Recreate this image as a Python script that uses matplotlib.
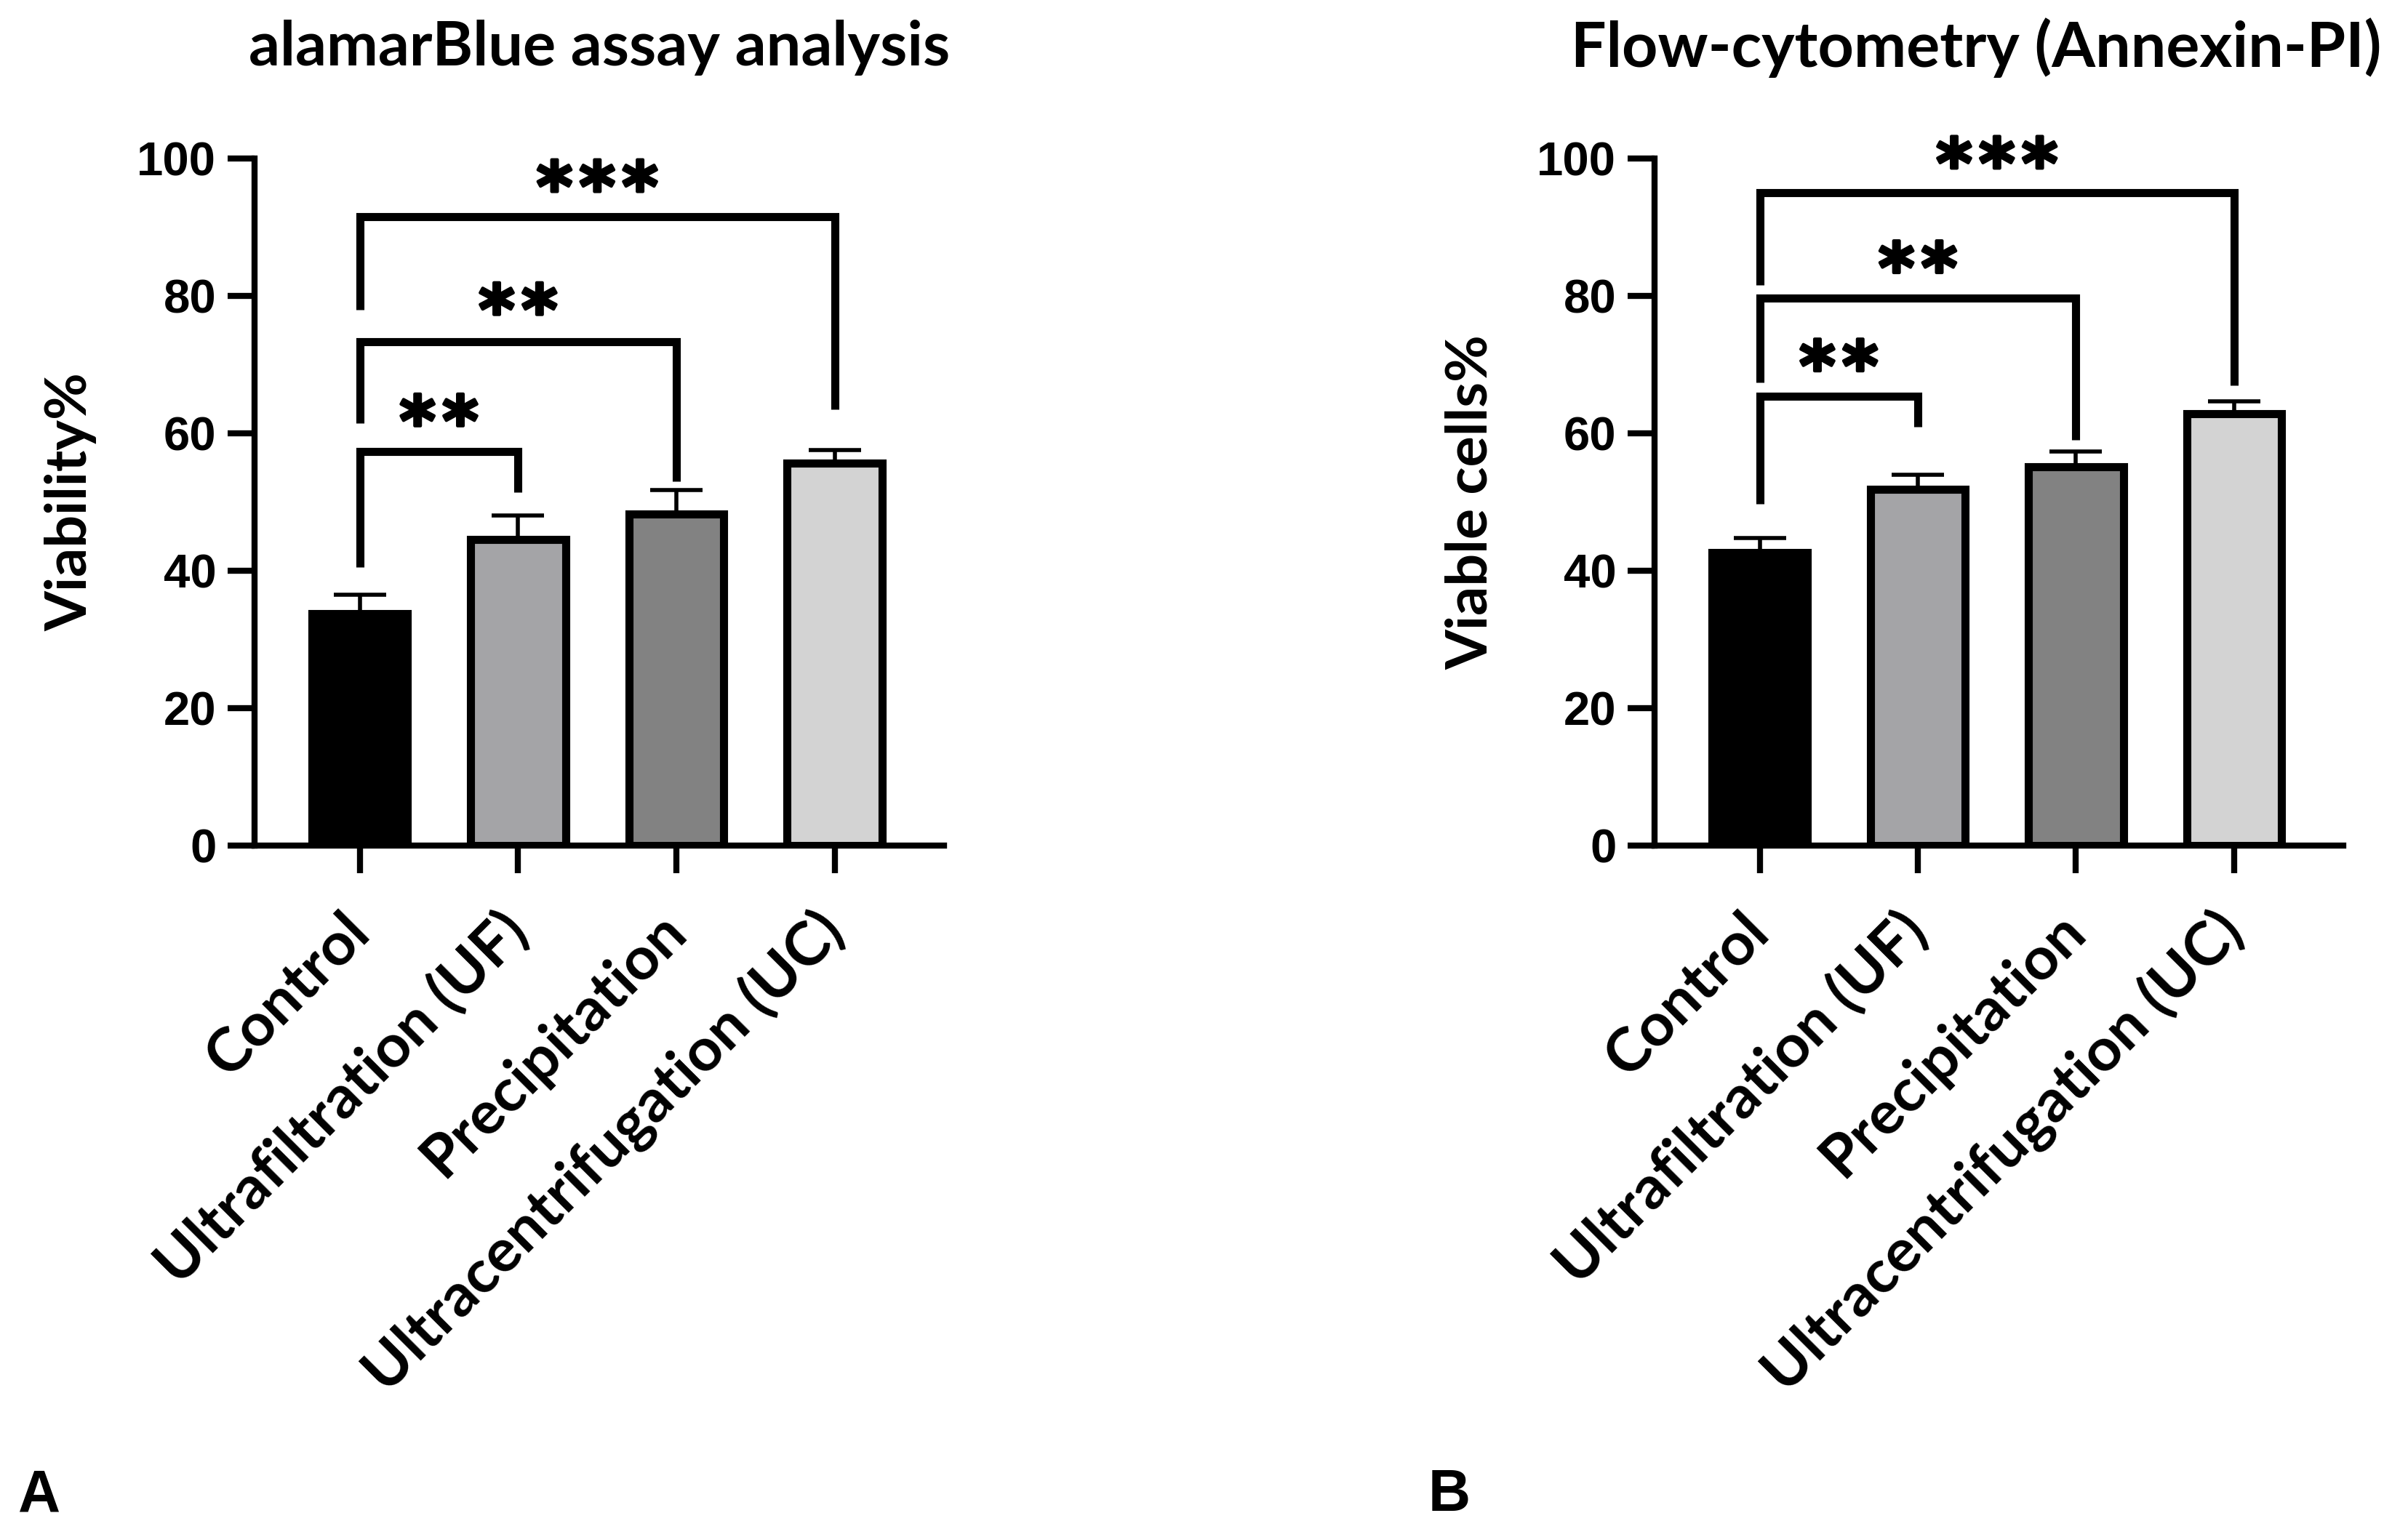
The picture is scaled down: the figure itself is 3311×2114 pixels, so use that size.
import matplotlib
matplotlib.use("Agg")
import matplotlib.pyplot as plt
import matplotlib.patheffects as pe
from matplotlib.transforms import offset_copy

groups = ["Control", "Ultrafiltration (UF)", "Precipitation", "Ultracentrifugation (UC)"]
bar_colors = ["#000000", "#a4a4a7", "#828282", "#d3d3d3"]
y_ticks = [0, 20, 40, 60, 80, 100]

# panel A: alamarBlue viability
viability = [33.7, 44.5, 48.2, 55.7]
viability_err = [2.8, 3.5, 3.5, 1.9]

# panel B: Annexin-PI viable cells
viable_cells = [42.6, 51.8, 55.1, 62.8]
viable_cells_err = [2.2, 2.2, 2.2, 1.9]

# significance brackets, Control vs each group
bracket_pairs = [(0, 1), (0, 2), (0, 3)]
stars = ["**", "**", "***"]
alamar_bracket_y = [57.4, 73.3, 91.5]
alamar_left_leg = [40.5, 61.5, 78.0]
alamar_right_leg = [51.4, 53.0, 63.5]
alamar_star_y = [64.2, 80.4, 98.3]
flow_bracket_y = [65.4, 79.7, 95.0]
flow_left_leg = [49.7, 67.4, 81.6]
flow_right_leg = [60.9, 59.0, 67.0]
flow_star_y = [72.2, 86.5, 101.7]

TEXT_FONT = "Lato"
NUM_FONT = "Liberation Sans"
STAR_SIZE = 68


def draw_panel(ax, values, errs, bracket_y, left_leg, right_leg, star_y, ylabel):
    x = list(range(len(groups)))
    ax.errorbar(x, values, yerr=[[0] * len(errs), errs], fmt="none",
                ecolor="black", elinewidth=4, capsize=26, capthick=4, zorder=1)
    ax.bar(x, values, width=0.6, color=bar_colors, edgecolor="black",
           linewidth=8, zorder=2)

    # asterisk glyph sits high in its box, so anchor on the baseline and drop it
    star_trans = offset_copy(ax.transData, fig=ax.figure, y=-0.59 * STAR_SIZE,
                             units="points")
    for (i, j), top, l1, l2, s, sy in zip(bracket_pairs, bracket_y, left_leg,
                                          right_leg, stars, star_y):
        ax.plot([i, i, j, j], [l1, top, top, l2], color="black", lw=8,
                solid_joinstyle="miter", solid_capstyle="butt", clip_on=False, zorder=3)
        ax.text((i + j) / 2, sy, "\u200a".join(s), ha="center", va="baseline",
                fontsize=STAR_SIZE, fontweight="bold", family="DejaVu Sans",
                transform=star_trans, clip_on=False,
                path_effects=[pe.withStroke(linewidth=3, foreground="black")])

    ax.set_xlim(-0.665, 3.69)
    ax.set_ylim(0, 100)
    ax.set_yticks(y_ticks)
    ax.set_xticks(x)
    ax.set_xticklabels(groups, rotation=45, ha="right", va="center",
                       rotation_mode="anchor", fontsize=60, fontweight="bold",
                       family=TEXT_FONT)
    for lab in ax.get_yticklabels():
        lab.set_fontsize(47)
        lab.set_fontweight("bold")
        lab.set_family(NUM_FONT)
    ax.tick_params(axis="y", length=27, width=6, pad=11)
    ax.tick_params(axis="x", length=27, width=6, pad=49)
    for side in ["top", "right"]:
        ax.spines[side].set_visible(False)
    for side in ["left", "bottom"]:
        ax.spines[side].set_linewidth(6)
    ax.set_ylabel(ylabel, fontsize=57, fontweight="bold", family=TEXT_FONT)
    ax.yaxis.set_label_coords(-0.228, 0.5)


fig = plt.figure(figsize=(33.11, 21.14), dpi=100)
ax_a = fig.add_axes([0.1057, 0.4499, 0.2863, 0.4470])
ax_b = fig.add_axes([0.6871, 0.4499, 0.2860, 0.4470])

draw_panel(ax_a, viability, viability_err, alamar_bracket_y, alamar_left_leg,
           alamar_right_leg, alamar_star_y, "Viability%")
draw_panel(ax_b, viable_cells, viable_cells_err, flow_bracket_y, flow_left_leg,
           flow_right_leg, flow_star_y, "Viable cells%")

fig.text(0.249, 0.969, "alamarBlue assay analysis", ha="center", va="center",
         fontsize=61, fontweight="bold", family=TEXT_FONT)
fig.text(0.8206, 0.969, "Flow-cytometry (Annexin-PI)", ha="center", va="center",
         fontsize=62, fontweight="bold", family=TEXT_FONT)
fig.text(0.0076, 0.017, "A", ha="left", va="baseline", fontsize=58,
         fontweight="bold", family=NUM_FONT)
fig.text(0.5932, 0.017, "B", ha="left", va="baseline", fontsize=58,
         fontweight="bold", family=NUM_FONT)

fig.savefig("out.png", dpi=100)
plt.close(fig)
